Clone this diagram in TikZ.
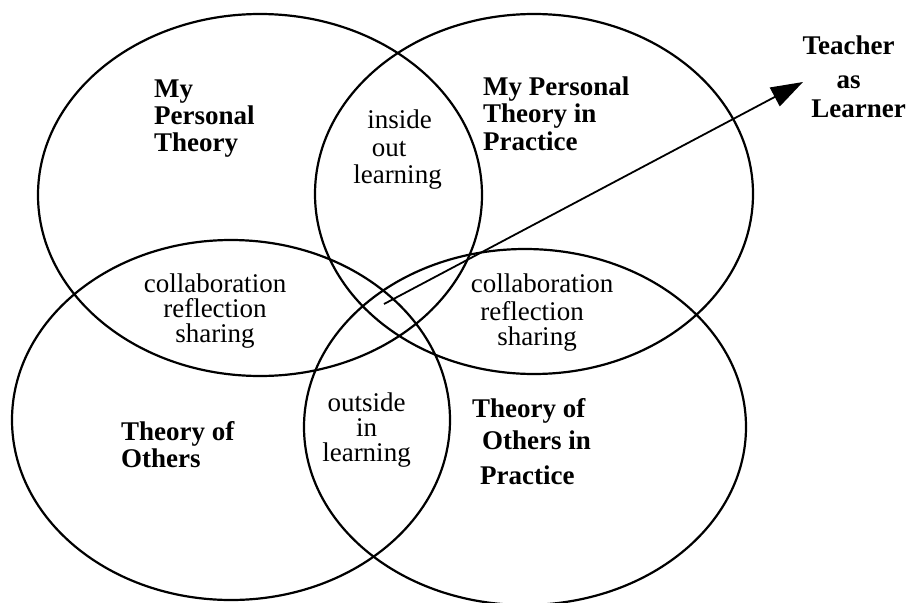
\documentclass[tikz,border=0pt]{standalone}
\usepackage{fontspec}
\setmainfont{Liberation Serif}
\usetikzlibrary{arrows.meta}
\begin{document}
\begin{tikzpicture}[x=1pt,y=-1pt,
  ring/.style={line width=2.2pt},
  bl/.style={font=\bfseries\fontsize{27}{28}\selectfont, inner sep=0pt, anchor=base west},
  bc/.style={font=\bfseries\fontsize{27}{28}\selectfont, inner sep=0pt, anchor=base},
  rc/.style={font=\fontsize{27}{28}\selectfont, inner sep=0pt, anchor=base},
  rblock/.style={font=\fontsize{27}{25}\selectfont, inner sep=0pt, align=center, anchor=center}]
\useasboundingbox (0,0) rectangle (909,602);
% circles
\draw[ring] (260,195) ellipse [x radius=222, y radius=181];
\draw[ring] (534,194) ellipse [x radius=219, y radius=180];
\draw[ring] (231,420) ellipse [x radius=219, y radius=180];
\draw[ring] (525,427) ellipse [x radius=221, y radius=178];
% My Personal Theory
\node[bl] (a1) at (154,97) {My};
\node[bl] (a2) at (154,124) {Personal};
\node[bl] (a3) at (154,151) {Theory};
% My Personal Theory in Practice
\node[bl] (b1) at (483,95) {My Personal};
\node[bl] (b2) at (483,122) {Theory in};
\node[bl] (b3) at (483,150) {Practice};
% inside out learning
\node[rc] (c1) at (399.5,128) {inside};
\node[rc] (c2) at (389,156) {out};
\node[rc] (c3) at (397.5,183) {learning};
% left collaboration
\node[rblock] (d) at (215,311) {collaboration\\reflection\\sharing};
% right collaboration
\node[rc] (e1) at (542,292) {collaboration};
\node[rc] (e2) at (532,320) {reflection};
\node[rc] (e3) at (537,345) {sharing};
% outside in learning
\node[rblock] (f) at (366.5,430) {outside\\in\\learning};
% Theory of Others
\node[bl] (g1) at (121,440) {Theory of};
\node[bl] (g2) at (121,467) {Others};
% Theory of Others in Practice
\node[bl] (h1) at (472,417) {Theory of};
\node[bl] (h2) at (482,449) {Others in};
\node[bl] (h3) at (480,484) {Practice};
% Teacher as Learner
\node[bc] (t1) at (848.5,55) {Teacher};
\node[bc] (t2) at (848.5,88) {as};
\node[bc] (t3) at (858.5,117) {Learner};
% arrow
\coordinate (tail) at (384,304);
\coordinate (tip) at (803,82);
\draw[line width=1.8pt, -{Triangle[length=32pt,width=21pt]}] (tail) -- (tip);
\end{tikzpicture}
\end{document}
